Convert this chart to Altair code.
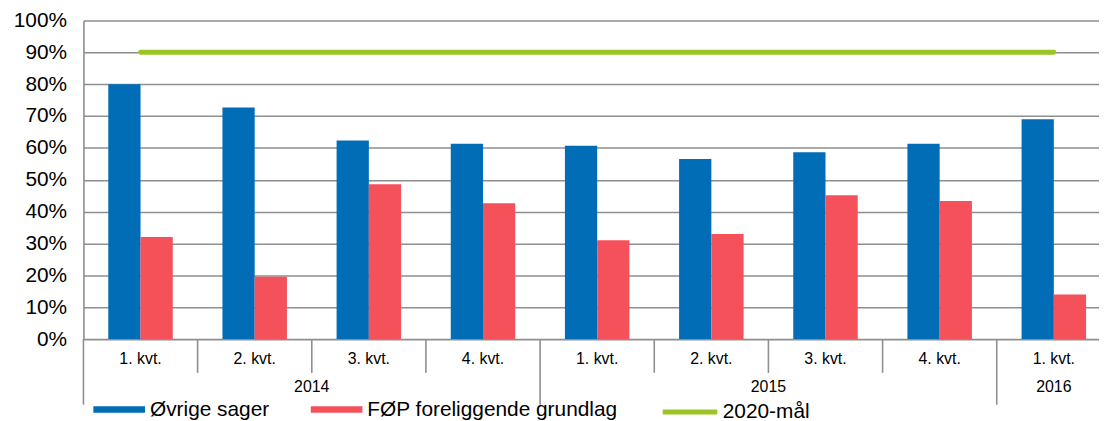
import altair as alt
import pandas as pd

# ---- data ----
quarters = ["1. kvt.", "2. kvt.", "3. kvt.", "4. kvt.",
            "1. kvt.", "2. kvt.", "3. kvt.", "4. kvt.", "1. kvt."]
years = ["2014", "2014", "2014", "2014",
         "2015", "2015", "2015", "2015", "2016"]
ovrige = [80.0, 72.7, 62.3, 61.3, 60.7, 56.5, 58.6, 61.3, 69.0]
fop = [32.0, 19.6, 48.6, 42.6, 31.0, 33.0, 45.1, 43.3, 14.0]
goal = [90, 90, 90, 90, 90, 90, 90, 90, 90]
series_names = ["Øvrige sager", "FØP foreliggende grundlag", "2020-mål"]
series_colors = ["#006DB6", "#F5515B", "#9BC523"]
y_tick_values = [0, 0.1, 0.2, 0.3, 0.4, 0.5, 0.6, 0.7, 0.8, 0.9, 1.0]

FONT = "Liberation Sans"
GRID = "#8e8e8e"

ids = [f"{y}|{q}" for y, q in zip(years, quarters)]
n = len(ids)

bars_df = pd.DataFrame({
    "id": ids * 2,
    "series": [series_names[0]] * n + [series_names[1]] * n,
    "value": [v / 100 for v in ovrige + fop],
})
goal_df = pd.DataFrame({
    "id": ids,
    "series": [series_names[2]] * n,
    "value": [v / 100 for v in goal],
})
sep_df = pd.DataFrame({
    "pos": list(range(n)),
    "year_start": [i == 0 or years[i] != years[i - 1] for i in range(n)],
})
year_rows = []
for yr in dict.fromkeys(years):
    idx = [i for i, yy in enumerate(years) if yy == yr]
    year_rows.append({"year": yr, "mid": (idx[0] + idx[-1] + 1) / 2})
year_df = pd.DataFrame(year_rows)

band_scale = alt.Scale(domain=ids, paddingInner=0, paddingOuter=0)
x_band = alt.X(
    "id:N", sort=ids, scale=band_scale,
    axis=alt.Axis(title=None, labelExpr="split(datum.value, '|')[1]", ticks=False,
                  domain=False, grid=False, labelPadding=12, labelFontSize=16,
                  labelAngle=0, labelColor="black", labelFont=FONT),
)
y_axis = alt.Axis(title=None, format=".0%", values=y_tick_values, ticks=False,
                  labelOverlap=False, tickCount=20,
                  labelPadding=17, labelFontSize=21, labelColor="black", labelFont=FONT,
                  grid=True, gridColor=GRID, gridWidth=1.6,
                  domainColor=GRID, domainWidth=1.6)
y_scale = alt.Scale(domain=[0, 1], nice=False)

bar_color = alt.Color(
    "series:N",
    scale=alt.Scale(domain=series_names[:2], range=series_colors[:2]),
    legend=alt.Legend(
        title=None, orient="none", legendX=10, legendY=366, direction="horizontal",
        columnPadding=41, symbolSize=2704, labelFontSize=21, labelOffset=5,
        symbolType="M-1,-0.127L1,-0.127L1,0.127L-1,0.127Z",
        symbolStrokeWidth=0, symbolOpacity=1,
        labelFont=FONT, labelColor="black", padding=0, labelLimit=0,
    ),
)
line_color = alt.Color(
    "series:N",
    scale=alt.Scale(domain=series_names[2:], range=series_colors[2:]),
    legend=alt.Legend(
        title=None, orient="none", legendX=581, legendY=364.5, direction="horizontal",
        symbolSize=3025, symbolType="stroke", symbolStrokeWidth=5,
        labelFontSize=21, labelOffset=3,
        labelFont=FONT, labelColor="black", padding=0, labelLimit=0,
    ),
)

bars = alt.Chart(bars_df).mark_bar().encode(
    x=x_band,
    xOffset=alt.XOffset("series:N", sort=series_names[:2],
                        scale=alt.Scale(domain=series_names[:2], paddingInner=0, paddingOuter=0.77)),
    y=alt.Y("value:Q", scale=y_scale, axis=y_axis),
    color=bar_color,
)
goal_line = alt.Chart(goal_df).mark_line(strokeWidth=5, strokeCap="round").encode(
    x=alt.X("id:N", sort=ids, scale=band_scale),
    y=alt.Y("value:Q", scale=y_scale, axis=y_axis),
    color=line_color,
)
main = alt.layer(bars, goal_line).resolve_scale(color="independent")

lin_scale = alt.Scale(domain=[0, n], nice=False, zero=False)

q_seps = alt.Chart(sep_df).transform_filter("!datum.year_start").mark_rule(
    color=GRID, strokeWidth=1.6
).encode(
    x=alt.X("pos:Q", scale=lin_scale, axis=None),
    y=alt.value(321), y2=alt.value(355),
)
y_seps = alt.Chart(sep_df).transform_filter("datum.year_start").mark_rule(
    color=GRID, strokeWidth=1.6
).encode(
    x=alt.X("pos:Q", scale=lin_scale, axis=None),
    y=alt.value(321), y2=alt.value(387),
)
year_text = alt.Chart(year_df).mark_text(
    fontSize=16, baseline="middle", font=FONT, color="black"
).encode(
    x=alt.X("mid:Q", scale=lin_scale, axis=None),
    y=alt.value(369),
    text="year:N",
)

chart = alt.layer(main, q_seps, y_seps, year_text).resolve_scale(
    x="independent"
).properties(
    width=1035, height=321,
    autosize=alt.AutoSizeParams(type="none"),
    padding={"left": 76, "top": 11, "right": -12, "bottom": 81},
    background="white",
).configure_view(stroke=None)

chart.save("out.html", embed_options={"renderer": "svg", "actions": False})
